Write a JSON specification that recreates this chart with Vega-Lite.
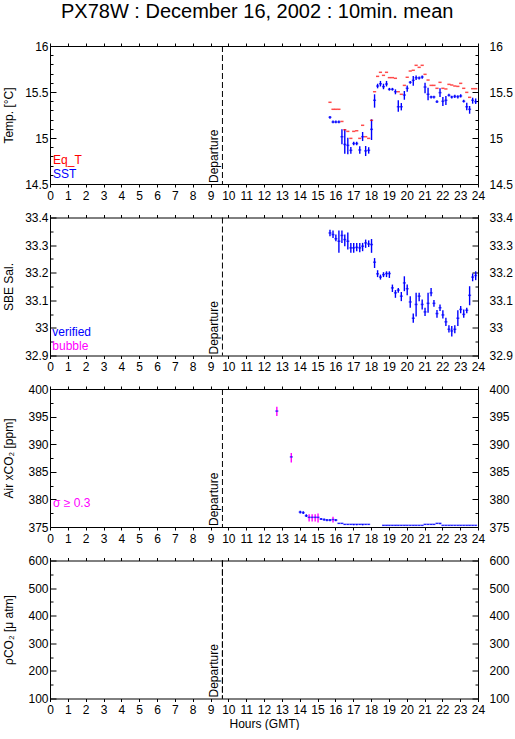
{
  "$schema": "https://vega.github.io/schema/vega-lite/v6.json",
  "background": "white",
  "padding": {"left": 1, "top": 1, "right": 0, "bottom": 0},
  "title": {"text": "PX78W : December 16, 2002 : 10min. mean", "fontSize": 20, "font": "Liberation Sans", "fontWeight": "normal", "color": "black", "anchor": "middle", "offset": 18},
  "config": {
    "view": {"stroke": "black", "strokeWidth": 1},
    "axis": {"domain": false, "grid": false, "labelFont": "Liberation Sans", "labelFontSize": 12, "titleFont": "Liberation Sans", "titleFontSize": 12, "titleFontWeight": "normal", "labelColor": "black", "titleColor": "black", "tickColor": "black", "tickWidth": 1, "labelFlush": false, "labelOverlap": false},
    "text": {"font": "Liberation Sans"}
  },
  "spacing": 33.5,
  "bounds": "flush",
  "datasets": {
    "temp": [
      {"hour": 15.70, "sst": 15.225, "lo": 15.21, "hi": 15.24, "eqt": 15.388},
      {"hour": 15.87, "sst": 15.174, "lo": 15.16, "hi": 15.19, "eqt": 15.312},
      {"hour": 16.03, "sst": 15.174, "lo": 15.16, "hi": 15.19, "eqt": 15.312},
      {"hour": 16.20, "sst": 15.174, "lo": 15.16, "hi": 15.19, "eqt": 15.312},
      {"hour": 16.37, "sst": 15.014, "lo": 14.932, "hi": 15.095, "eqt": 15.18},
      {"hour": 16.53, "sst": 14.93, "lo": 14.829, "hi": 15.095, "eqt": 15.09},
      {"hour": 16.70, "sst": 14.92, "lo": 14.823, "hi": 15.003, "eqt": 15.072},
      {"hour": 16.87, "sst": 14.866, "lo": 14.829, "hi": 14.902, "eqt": 14.996},
      {"hour": 17.03, "sst": 14.94, "lo": 14.92, "hi": 14.96, "eqt": 15.072},
      {"hour": 17.20, "sst": 14.94, "lo": 14.92, "hi": 14.96, "eqt": 15.079},
      {"hour": 17.37, "sst": 14.87, "lo": 14.83, "hi": 14.91, "eqt": 14.996},
      {"hour": 17.53, "sst": 15.014, "lo": 14.967, "hi": 15.065, "eqt": 15.138},
      {"hour": 17.70, "sst": 14.86, "lo": 14.804, "hi": 14.913, "eqt": 15.014},
      {"hour": 17.87, "sst": 14.866, "lo": 14.83, "hi": 14.90, "eqt": 14.996},
      {"hour": 18.03, "sst": 15.094, "lo": 14.978, "hi": 15.203, "eqt": 15.192},
      {"hour": 18.20, "sst": 15.41, "lo": 15.33, "hi": 15.475, "eqt": 15.503},
      {"hour": 18.37, "sst": 15.565, "lo": 15.54, "hi": 15.59, "eqt": 15.67},
      {"hour": 18.53, "sst": 15.59, "lo": 15.56, "hi": 15.62, "eqt": 15.714},
      {"hour": 18.70, "sst": 15.558, "lo": 15.53, "hi": 15.59, "eqt": 15.681},
      {"hour": 18.87, "sst": 15.587, "lo": 15.56, "hi": 15.62, "eqt": 15.714},
      {"hour": 19.03, "sst": 15.529, "lo": 15.515, "hi": 15.545, "eqt": 15.656},
      {"hour": 19.20, "sst": 15.529, "lo": 15.515, "hi": 15.545, "eqt": 15.656},
      {"hour": 19.37, "sst": 15.503, "lo": 15.475, "hi": 15.529, "eqt": 15.649},
      {"hour": 19.53, "sst": 15.34, "lo": 15.286, "hi": 15.41, "eqt": 15.503},
      {"hour": 19.70, "sst": 15.34, "lo": 15.30, "hi": 15.38, "eqt": 15.475},
      {"hour": 19.87, "sst": 15.467, "lo": 15.416, "hi": 15.511, "eqt": 15.572},
      {"hour": 20.03, "sst": 15.54, "lo": 15.503, "hi": 15.572, "eqt": 15.66},
      {"hour": 20.20, "sst": 15.605, "lo": 15.59, "hi": 15.62, "eqt": 15.728},
      {"hour": 20.37, "sst": 15.627, "lo": 15.568, "hi": 15.674, "eqt": 15.736},
      {"hour": 20.53, "sst": 15.655, "lo": 15.63, "hi": 15.68, "eqt": 15.79},
      {"hour": 20.70, "sst": 15.652, "lo": 15.635, "hi": 15.668, "eqt": 15.768},
      {"hour": 20.87, "sst": 15.663, "lo": 15.645, "hi": 15.68, "eqt": 15.79},
      {"hour": 21.03, "sst": 15.554, "lo": 15.486, "hi": 15.601, "eqt": 15.692},
      {"hour": 21.20, "sst": 15.475, "lo": 15.41, "hi": 15.547, "eqt": 15.63},
      {"hour": 21.37, "sst": 15.446, "lo": 15.43, "hi": 15.46, "eqt": 15.572},
      {"hour": 21.53, "sst": 15.446, "lo": 15.43, "hi": 15.46, "eqt": 15.572},
      {"hour": 21.70, "sst": 15.395, "lo": 15.38, "hi": 15.41, "eqt": 15.54},
      {"hour": 21.87, "sst": 15.493, "lo": 15.446, "hi": 15.54, "eqt": 15.605},
      {"hour": 22.03, "sst": 15.399, "lo": 15.348, "hi": 15.446, "eqt": 15.54},
      {"hour": 22.20, "sst": 15.41, "lo": 15.36, "hi": 15.457, "eqt": 15.533},
      {"hour": 22.37, "sst": 15.464, "lo": 15.45, "hi": 15.48, "eqt": 15.583},
      {"hour": 22.53, "sst": 15.446, "lo": 15.43, "hi": 15.46, "eqt": 15.576},
      {"hour": 22.70, "sst": 15.453, "lo": 15.435, "hi": 15.47, "eqt": 15.565},
      {"hour": 22.87, "sst": 15.449, "lo": 15.43, "hi": 15.465, "eqt": 15.561},
      {"hour": 23.03, "sst": 15.457, "lo": 15.44, "hi": 15.475, "eqt": 15.594},
      {"hour": 23.20, "sst": 15.399, "lo": 15.385, "hi": 15.415, "eqt": 15.54},
      {"hour": 23.37, "sst": 15.34, "lo": 15.301, "hi": 15.384, "eqt": 15.496},
      {"hour": 23.53, "sst": 15.312, "lo": 15.264, "hi": 15.348, "eqt": 15.442},
      {"hour": 23.70, "sst": 15.41, "lo": 15.373, "hi": 15.438, "eqt": 15.536},
      {"hour": 23.87, "sst": 15.395, "lo": 15.37, "hi": 15.43, "eqt": 15.536}
    ],
    "sal": [
      {"hour": 15.70, "sal": 33.344, "lo": 33.332, "hi": 33.356},
      {"hour": 15.87, "sal": 33.338, "lo": 33.326, "hi": 33.353},
      {"hour": 16.03, "sal": 33.323, "lo": 33.314, "hi": 33.338},
      {"hour": 16.20, "sal": 33.314, "lo": 33.272, "hi": 33.353},
      {"hour": 16.37, "sal": 33.335, "lo": 33.308, "hi": 33.353},
      {"hour": 16.53, "sal": 33.320, "lo": 33.296, "hi": 33.338},
      {"hour": 16.70, "sal": 33.314, "lo": 33.284, "hi": 33.346},
      {"hour": 16.87, "sal": 33.290, "lo": 33.272, "hi": 33.308},
      {"hour": 17.03, "sal": 33.290, "lo": 33.272, "hi": 33.308},
      {"hour": 17.20, "sal": 33.292, "lo": 33.278, "hi": 33.308},
      {"hour": 17.37, "sal": 33.290, "lo": 33.274, "hi": 33.308},
      {"hour": 17.53, "sal": 33.296, "lo": 33.278, "hi": 33.308},
      {"hour": 17.70, "sal": 33.308, "lo": 33.290, "hi": 33.320},
      {"hour": 17.87, "sal": 33.304, "lo": 33.293, "hi": 33.317},
      {"hour": 18.03, "sal": 33.302, "lo": 33.272, "hi": 33.322},
      {"hour": 18.20, "sal": 33.238, "lo": 33.217, "hi": 33.253},
      {"hour": 18.37, "sal": 33.196, "lo": 33.184, "hi": 33.209},
      {"hour": 18.53, "sal": 33.184, "lo": 33.175, "hi": 33.193},
      {"hour": 18.70, "sal": 33.193, "lo": 33.184, "hi": 33.202},
      {"hour": 18.87, "sal": 33.197, "lo": 33.184, "hi": 33.205},
      {"hour": 19.03, "sal": 33.197, "lo": 33.181, "hi": 33.205},
      {"hour": 19.20, "sal": 33.145, "lo": 33.130, "hi": 33.157},
      {"hour": 19.37, "sal": 33.127, "lo": 33.109, "hi": 33.137},
      {"hour": 19.53, "sal": 33.137, "lo": 33.127, "hi": 33.145},
      {"hour": 19.70, "sal": 33.115, "lo": 33.097, "hi": 33.130},
      {"hour": 19.87, "sal": 33.163, "lo": 33.133, "hi": 33.187},
      {"hour": 20.03, "sal": 33.142, "lo": 33.118, "hi": 33.157},
      {"hour": 20.20, "sal": 33.094, "lo": 33.073, "hi": 33.115},
      {"hour": 20.37, "sal": 33.035, "lo": 33.019, "hi": 33.052},
      {"hour": 20.53, "sal": 33.085, "lo": 33.041, "hi": 33.127},
      {"hour": 20.70, "sal": 33.115, "lo": 33.097, "hi": 33.127},
      {"hour": 20.87, "sal": 33.085, "lo": 33.067, "hi": 33.103},
      {"hour": 21.03, "sal": 33.058, "lo": 33.043, "hi": 33.073},
      {"hour": 21.20, "sal": 33.089, "lo": 33.055, "hi": 33.127},
      {"hour": 21.37, "sal": 33.127, "lo": 33.115, "hi": 33.145},
      {"hour": 21.53, "sal": 33.089, "lo": 33.077, "hi": 33.101},
      {"hour": 21.70, "sal": 33.052, "lo": 33.037, "hi": 33.065},
      {"hour": 21.87, "sal": 33.073, "lo": 33.061, "hi": 33.085},
      {"hour": 22.03, "sal": 33.047, "lo": 33.034, "hi": 33.064},
      {"hour": 22.20, "sal": 33.022, "lo": 33.007, "hi": 33.037},
      {"hour": 22.37, "sal": 32.995, "lo": 32.983, "hi": 33.010},
      {"hour": 22.53, "sal": 32.989, "lo": 32.969, "hi": 33.007},
      {"hour": 22.70, "sal": 32.995, "lo": 32.981, "hi": 33.010},
      {"hour": 22.87, "sal": 33.035, "lo": 33.007, "hi": 33.064},
      {"hour": 23.03, "sal": 33.067, "lo": 33.053, "hi": 33.079},
      {"hour": 23.20, "sal": 33.049, "lo": 33.037, "hi": 33.067},
      {"hour": 23.37, "sal": 33.064, "lo": 33.053, "hi": 33.073},
      {"hour": 23.53, "sal": 33.118, "lo": 33.082, "hi": 33.151},
      {"hour": 23.70, "sal": 33.184, "lo": 33.169, "hi": 33.197},
      {"hour": 23.87, "sal": 33.190, "lo": 33.173, "hi": 33.205}
    ],
    "co2": [
      {"hour": 12.72, "co2": 396.0, "lo": 395.1, "hi": 396.8, "flag": "sd"},
      {"hour": 13.53, "co2": 387.7, "lo": 386.7, "hi": 388.4, "flag": "sd"},
      {"hour": 14.03, "co2": 377.7, "lo": 377.45, "hi": 377.95, "flag": "ok"},
      {"hour": 14.20, "co2": 377.6, "lo": 377.35, "hi": 377.85, "flag": "ok"},
      {"hour": 14.37, "co2": 377.05, "lo": 376.8, "hi": 377.3, "flag": "ok"},
      {"hour": 14.53, "co2": 376.75, "lo": 376.0, "hi": 377.3, "flag": "sd"},
      {"hour": 14.70, "co2": 376.75, "lo": 376.0, "hi": 377.3, "flag": "sd"},
      {"hour": 14.87, "co2": 376.75, "lo": 376.0, "hi": 377.3, "flag": "sd"},
      {"hour": 15.03, "co2": 376.75, "lo": 375.8, "hi": 377.45, "flag": "sd"},
      {"hour": 15.20, "co2": 376.45, "lo": 376.25, "hi": 376.65, "flag": "ok"},
      {"hour": 15.37, "co2": 376.35, "lo": 376.15, "hi": 376.55, "flag": "ok"},
      {"hour": 15.53, "co2": 376.25, "lo": 376.05, "hi": 376.45, "flag": "ok"},
      {"hour": 15.70, "co2": 376.25, "lo": 376.05, "hi": 376.45, "flag": "ok"},
      {"hour": 15.87, "co2": 376.35, "lo": 375.8, "hi": 376.85, "flag": "sd"},
      {"hour": 16.03, "co2": 376.25, "lo": 376.05, "hi": 376.45, "flag": "ok"},
      {"hour": 16.20, "co2": 375.66, "lo": 375.6, "hi": 375.72, "flag": "ok"},
      {"hour": 16.37, "co2": 375.66, "lo": 375.6, "hi": 375.72, "flag": "ok"},
      {"hour": 16.53, "co2": 375.48, "lo": 375.42, "hi": 375.54, "flag": "ok"},
      {"hour": 16.70, "co2": 375.48, "lo": 375.42, "hi": 375.54, "flag": "ok"},
      {"hour": 16.87, "co2": 375.48, "lo": 375.42, "hi": 375.54, "flag": "ok"},
      {"hour": 17.03, "co2": 375.48, "lo": 375.3, "hi": 375.54, "flag": "ok"},
      {"hour": 17.20, "co2": 375.48, "lo": 375.3, "hi": 375.54, "flag": "ok"},
      {"hour": 17.37, "co2": 375.48, "lo": 375.42, "hi": 375.54, "flag": "ok"},
      {"hour": 17.53, "co2": 375.48, "lo": 375.3, "hi": 375.54, "flag": "ok"},
      {"hour": 17.70, "co2": 375.48, "lo": 375.42, "hi": 375.54, "flag": "ok"},
      {"hour": 17.87, "co2": 375.48, "lo": 375.42, "hi": 375.54, "flag": "ok"},
      {"hour": 18.70, "co2": 375.3, "lo": 375.25, "hi": 375.35, "flag": "ok"},
      {"hour": 18.87, "co2": 375.3, "lo": 375.25, "hi": 375.35, "flag": "ok"},
      {"hour": 19.03, "co2": 375.3, "lo": 375.25, "hi": 375.35, "flag": "ok"},
      {"hour": 19.20, "co2": 375.3, "lo": 375.25, "hi": 375.35, "flag": "ok"},
      {"hour": 19.37, "co2": 375.3, "lo": 375.25, "hi": 375.35, "flag": "ok"},
      {"hour": 19.53, "co2": 375.3, "lo": 375.25, "hi": 375.35, "flag": "ok"},
      {"hour": 19.70, "co2": 375.3, "lo": 375.25, "hi": 375.35, "flag": "ok"},
      {"hour": 19.87, "co2": 375.3, "lo": 375.25, "hi": 375.35, "flag": "ok"},
      {"hour": 20.03, "co2": 375.3, "lo": 375.25, "hi": 375.35, "flag": "ok"},
      {"hour": 20.20, "co2": 375.3, "lo": 375.25, "hi": 375.35, "flag": "ok"},
      {"hour": 20.37, "co2": 375.3, "lo": 375.25, "hi": 375.35, "flag": "ok"},
      {"hour": 20.53, "co2": 375.3, "lo": 375.25, "hi": 375.35, "flag": "ok"},
      {"hour": 20.70, "co2": 375.3, "lo": 375.25, "hi": 375.35, "flag": "ok"},
      {"hour": 20.87, "co2": 375.3, "lo": 375.25, "hi": 375.35, "flag": "ok"},
      {"hour": 21.03, "co2": 375.48, "lo": 375.42, "hi": 375.54, "flag": "ok"},
      {"hour": 21.20, "co2": 375.48, "lo": 375.42, "hi": 375.54, "flag": "ok"},
      {"hour": 21.37, "co2": 375.48, "lo": 375.42, "hi": 375.54, "flag": "ok"},
      {"hour": 21.53, "co2": 375.48, "lo": 375.42, "hi": 375.54, "flag": "ok"},
      {"hour": 21.70, "co2": 375.66, "lo": 375.6, "hi": 375.72, "flag": "ok"},
      {"hour": 21.87, "co2": 375.66, "lo": 375.48, "hi": 375.72, "flag": "ok"},
      {"hour": 22.03, "co2": 375.3, "lo": 375.25, "hi": 375.35, "flag": "ok"},
      {"hour": 22.20, "co2": 375.3, "lo": 375.25, "hi": 375.35, "flag": "ok"},
      {"hour": 22.37, "co2": 375.3, "lo": 375.25, "hi": 375.35, "flag": "ok"},
      {"hour": 22.53, "co2": 375.3, "lo": 375.25, "hi": 375.35, "flag": "ok"},
      {"hour": 22.70, "co2": 375.3, "lo": 375.25, "hi": 375.35, "flag": "ok"},
      {"hour": 22.87, "co2": 375.3, "lo": 375.25, "hi": 375.35, "flag": "ok"},
      {"hour": 23.03, "co2": 375.3, "lo": 375.25, "hi": 375.35, "flag": "ok"},
      {"hour": 23.20, "co2": 375.3, "lo": 375.25, "hi": 375.35, "flag": "ok"},
      {"hour": 23.37, "co2": 375.3, "lo": 375.25, "hi": 375.35, "flag": "ok"},
      {"hour": 23.53, "co2": 375.3, "lo": 375.25, "hi": 375.35, "flag": "ok"},
      {"hour": 23.70, "co2": 375.3, "lo": 375.25, "hi": 375.35, "flag": "ok"},
      {"hour": 23.87, "co2": 375.3, "lo": 375.25, "hi": 375.35, "flag": "ok"}
    ]
  },
  "vconcat": [
    {
      "width": 428, "height": 138,
      "resolve": {"axis": {"x": "independent", "y": "independent"}},
      "layer": [
        {"data": {"name": "temp"}, "mark": {"type": "rule", "color": "#0000ff", "strokeWidth": 1.4},
         "encoding": {
           "x": {"field": "hour", "type": "quantitative", "scale": {"domain": [0, 24], "nice": false, "zero": false},
                 "axis": {"orient": "bottom", "values": [0,1,2,3,4,5,6,7,8,9,10,11,12,13,14,15,16,17,18,19,20,21,22,23,24], "format": "d", "tickSize": 3, "labelPadding": 3, "title": null}},
           "y": {"field": "lo", "type": "quantitative", "scale": {"domain": [14.5, 16], "nice": false, "zero": false},
                 "axis": {"orient": "left", "values": [14.5, 15, 15.5, 16], "format": "~g", "tickSize": -6, "labelPadding": 8, "title": "Temp. [°C]", "titleX": -42, "titleY": 69, "titleBaseline": "middle", "titleAlign": "center", "titleAngle": 270}},
           "y2": {"field": "hi"}}},
        {"data": {"name": "temp"}, "mark": {"type": "tick", "orient": "horizontal", "color": "#0000ff", "size": 3, "thickness": 1.5},
         "encoding": {
           "x": {"field": "hour", "type": "quantitative", "axis": {"orient": "top", "values": [0,1,2,3,4,5,6,7,8,9,10,11,12,13,14,15,16,17,18,19,20,21,22,23,24], "labels": false, "tickSize": 3, "title": null}},
           "y": {"field": "sst", "type": "quantitative", "axis": {"orient": "left", "values": [14.6,14.7,14.8,14.9,15.1,15.2,15.3,15.4,15.6,15.7,15.8,15.9], "labels": false, "tickSize": -3, "title": null}}}},
        {"data": {"name": "temp"}, "mark": {"type": "tick", "orient": "horizontal", "color": "#ff0000", "size": 3.2, "thickness": 1.5},
         "encoding": {
           "x": {"field": "hour", "type": "quantitative", "axis": null},
           "y": {"field": "eqt", "type": "quantitative", "axis": {"orient": "right", "values": [14.5, 15, 15.5, 16], "format": "~g", "tickSize": -6, "labelPadding": 17, "title": null}}}},
        {"data": {"values": [{}]}, "mark": {"type": "rule", "color": "black", "strokeDash": [6, 3], "strokeWidth": 1},
         "encoding": {
           "x": {"datum": 9.67, "type": "quantitative", "axis": null},
           "y": {"datum": 16, "type": "quantitative", "axis": {"orient": "right", "values": [14.6,14.7,14.8,14.9,15.1,15.2,15.3,15.4,15.6,15.7,15.8,15.9], "labels": false, "tickSize": -3, "title": null}},
           "y2": {"datum": 14.5}}},
        {"data": {"values": [{}]}, "mark": {"type": "text", "text": "Departure", "angle": 270, "align": "left", "baseline": "bottom", "dx": 1, "dy": -1, "fontSize": 12, "color": "black"},
         "encoding": {"x": {"datum": 9.67, "type": "quantitative", "axis": null}, "y": {"datum": 14.5, "type": "quantitative", "axis": null}}},
        {"data": {"values": [{}]}, "mark": {"type": "text", "text": "Eq_T", "align": "left", "baseline": "alphabetic", "fontSize": 12, "color": "#ff0000"},
         "encoding": {"x": {"datum": 0.17, "type": "quantitative", "axis": null}, "y": {"datum": 14.714, "type": "quantitative", "axis": null}}},
        {"data": {"values": [{}]}, "mark": {"type": "text", "text": "SST", "align": "left", "baseline": "alphabetic", "fontSize": 12, "color": "#0000ff"},
         "encoding": {"x": {"datum": 0.17, "type": "quantitative", "axis": null}, "y": {"datum": 14.563, "type": "quantitative", "axis": null}}}
      ]
    },
    {
      "width": 428, "height": 138,
      "resolve": {"axis": {"x": "independent", "y": "independent"}},
      "layer": [
        {"data": {"name": "sal"}, "mark": {"type": "rule", "color": "#0000ff", "strokeWidth": 1.4},
         "encoding": {
           "x": {"field": "hour", "type": "quantitative", "scale": {"domain": [0, 24], "nice": false, "zero": false},
                 "axis": {"orient": "bottom", "values": [0,1,2,3,4,5,6,7,8,9,10,11,12,13,14,15,16,17,18,19,20,21,22,23,24], "format": "d", "tickSize": 3, "labelPadding": 3, "title": null}},
           "y": {"field": "lo", "type": "quantitative", "scale": {"domain": [32.9, 33.4], "nice": false, "zero": false},
                 "axis": {"orient": "left", "values": [32.9, 33, 33.1, 33.2, 33.3, 33.4], "format": "~g", "tickSize": -6, "labelPadding": 8, "title": "SBE Sal.", "titleX": -42, "titleY": 69, "titleBaseline": "middle", "titleAlign": "center", "titleAngle": 270}},
           "y2": {"field": "hi"}}},
        {"data": {"name": "sal"}, "mark": {"type": "tick", "orient": "horizontal", "color": "#0000ff", "size": 3, "thickness": 1.5},
         "encoding": {
           "x": {"field": "hour", "type": "quantitative", "axis": {"orient": "top", "values": [0,1,2,3,4,5,6,7,8,9,10,11,12,13,14,15,16,17,18,19,20,21,22,23,24], "labels": false, "tickSize": 3, "title": null}},
           "y": {"field": "sal", "type": "quantitative", "axis": {"orient": "left", "values": [32.95, 33.05, 33.15, 33.25, 33.35], "labels": false, "tickSize": -3, "title": null}}}},
        {"data": {"values": [{}]}, "mark": {"type": "text", "text": "verified", "align": "left", "baseline": "alphabetic", "fontSize": 12, "color": "#0000ff"},
         "encoding": {"x": {"datum": 0.13, "type": "quantitative", "axis": null},
           "y": {"datum": 32.969, "type": "quantitative", "axis": {"orient": "right", "values": [32.9, 33, 33.1, 33.2, 33.3, 33.4], "format": "~g", "tickSize": -6, "labelPadding": 17, "title": null}}}},
        {"data": {"values": [{}]}, "mark": {"type": "rule", "color": "black", "strokeDash": [6, 3], "strokeWidth": 1},
         "encoding": {
           "x": {"datum": 9.67, "type": "quantitative", "axis": null},
           "y": {"datum": 33.4, "type": "quantitative", "axis": {"orient": "right", "values": [32.95, 33.05, 33.15, 33.25, 33.35], "labels": false, "tickSize": -3, "title": null}},
           "y2": {"datum": 32.9}}},
        {"data": {"values": [{}]}, "mark": {"type": "text", "text": "Departure", "angle": 270, "align": "left", "baseline": "bottom", "dx": 1, "dy": -1, "fontSize": 12, "color": "black"},
         "encoding": {"x": {"datum": 9.67, "type": "quantitative", "axis": null}, "y": {"datum": 32.9, "type": "quantitative", "axis": null}}},
        {"data": {"values": [{}]}, "mark": {"type": "text", "text": "bubble", "align": "left", "baseline": "alphabetic", "fontSize": 12, "color": "#ff00ff"},
         "encoding": {"x": {"datum": 0.13, "type": "quantitative", "axis": null}, "y": {"datum": 32.921, "type": "quantitative", "axis": null}}}
      ]
    },
    {
      "width": 428, "height": 138,
      "resolve": {"axis": {"x": "independent", "y": "independent"}},
      "layer": [
        {"data": {"name": "co2"}, "mark": {"type": "rule", "strokeWidth": 1.4},
         "encoding": {
           "x": {"field": "hour", "type": "quantitative", "scale": {"domain": [0, 24], "nice": false, "zero": false},
                 "axis": {"orient": "bottom", "values": [0,1,2,3,4,5,6,7,8,9,10,11,12,13,14,15,16,17,18,19,20,21,22,23,24], "format": "d", "tickSize": 3, "labelPadding": 3, "title": null}},
           "y": {"field": "lo", "type": "quantitative", "scale": {"domain": [375, 400], "nice": false, "zero": false},
                 "axis": {"orient": "left", "values": [375, 380, 385, 390, 395, 400], "format": "d", "tickSize": -6, "labelPadding": 8, "title": "Air xCO₂ [ppm]", "titleX": -42, "titleY": 69, "titleBaseline": "middle", "titleAlign": "center", "titleAngle": 270}},
           "y2": {"field": "hi"},
           "color": {"field": "flag", "type": "nominal", "scale": {"domain": ["ok", "sd"], "range": ["#0000ff", "#ff00ff"]}, "legend": null}}},
        {"data": {"name": "co2"}, "mark": {"type": "tick", "orient": "horizontal", "color": "#0000ff", "size": 3, "thickness": 1.5},
         "encoding": {
           "x": {"field": "hour", "type": "quantitative", "axis": {"orient": "top", "values": [0,1,2,3,4,5,6,7,8,9,10,11,12,13,14,15,16,17,18,19,20,21,22,23,24], "labels": false, "tickSize": 3, "title": null}},
           "y": {"field": "co2", "type": "quantitative", "axis": {"orient": "left", "values": [377.5, 382.5, 387.5, 392.5, 397.5], "labels": false, "tickSize": -3, "title": null}}}},
        {"data": {"values": [{}]}, "mark": {"type": "text", "text": "σ ≥ 0.3", "align": "left", "baseline": "alphabetic", "fontSize": 12, "color": "#ff00ff"},
         "encoding": {"x": {"datum": 0.17, "type": "quantitative", "axis": null},
           "y": {"datum": 378.6, "type": "quantitative", "axis": {"orient": "right", "values": [375, 380, 385, 390, 395, 400], "format": "d", "tickSize": -6, "labelPadding": 17, "title": null}}}},
        {"data": {"values": [{}]}, "mark": {"type": "rule", "color": "black", "strokeDash": [6, 3], "strokeWidth": 1},
         "encoding": {
           "x": {"datum": 9.67, "type": "quantitative", "axis": null},
           "y": {"datum": 400, "type": "quantitative", "axis": {"orient": "right", "values": [377.5, 382.5, 387.5, 392.5, 397.5], "labels": false, "tickSize": -3, "title": null}},
           "y2": {"datum": 375}}},
        {"data": {"values": [{}]}, "mark": {"type": "text", "text": "Departure", "angle": 270, "align": "left", "baseline": "bottom", "dx": 1, "dy": -1, "fontSize": 12, "color": "black"},
         "encoding": {"x": {"datum": 9.67, "type": "quantitative", "axis": null}, "y": {"datum": 375, "type": "quantitative", "axis": null}}}
      ]
    },
    {
      "width": 428, "height": 138,
      "resolve": {"axis": {"x": "independent", "y": "independent"}},
      "layer": [
        {"data": {"values": [{}]}, "mark": {"type": "text", "text": "Departure", "angle": 270, "align": "left", "baseline": "bottom", "dx": 1, "dy": -1, "fontSize": 12, "color": "black"},
         "encoding": {
           "x": {"datum": 9.67, "type": "quantitative", "scale": {"domain": [0, 24], "nice": false, "zero": false},
                 "axis": {"orient": "bottom", "values": [0,1,2,3,4,5,6,7,8,9,10,11,12,13,14,15,16,17,18,19,20,21,22,23,24], "format": "d", "tickSize": 3, "labelPadding": 3, "title": "Hours (GMT)", "titlePadding": 3}},
           "y": {"datum": 100, "type": "quantitative", "scale": {"domain": [100, 600], "nice": false, "zero": false},
                 "axis": {"orient": "left", "values": [100, 200, 300, 400, 500, 600], "format": "d", "tickSize": -6, "labelPadding": 8, "title": "ρCO₂ [μ atm]", "titleX": -42, "titleY": 69, "titleBaseline": "middle", "titleAlign": "center", "titleAngle": 270}}}},
        {"data": {"values": [{}]}, "mark": {"type": "rule", "color": "black", "strokeDash": [6, 3], "strokeWidth": 1},
         "encoding": {
           "x": {"datum": 9.67, "type": "quantitative", "axis": {"orient": "top", "values": [0,1,2,3,4,5,6,7,8,9,10,11,12,13,14,15,16,17,18,19,20,21,22,23,24], "labels": false, "tickSize": 3, "title": null}},
           "y": {"datum": 600, "type": "quantitative", "axis": {"orient": "left", "values": [150, 250, 350, 450, 550], "labels": false, "tickSize": -3, "title": null}},
           "y2": {"datum": 100}}},
        {"data": {"values": [{}]}, "mark": {"type": "rule", "color": "black", "strokeDash": [6, 3], "strokeWidth": 1},
         "encoding": {
           "x": {"datum": 9.67, "type": "quantitative", "axis": null},
           "y": {"datum": 600, "type": "quantitative", "axis": {"orient": "right", "values": [100, 200, 300, 400, 500, 600], "format": "d", "tickSize": -6, "labelPadding": 17, "title": null}},
           "y2": {"datum": 100}}},
        {"data": {"values": [{}]}, "mark": {"type": "rule", "color": "black", "strokeDash": [6, 3], "strokeWidth": 1},
         "encoding": {
           "x": {"datum": 9.67, "type": "quantitative", "axis": null},
           "y": {"datum": 600, "type": "quantitative", "axis": {"orient": "right", "values": [150, 250, 350, 450, 550], "labels": false, "tickSize": -3, "title": null}},
           "y2": {"datum": 100}}}
      ]
    }
  ]
}
